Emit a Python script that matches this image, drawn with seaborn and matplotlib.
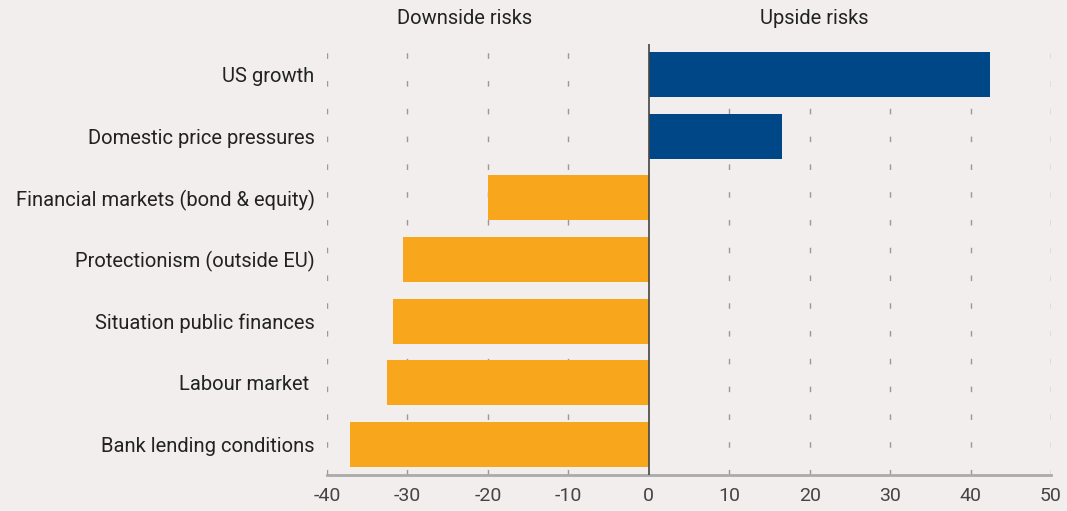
import matplotlib
matplotlib.use("Agg")
import matplotlib.pyplot as plt
import seaborn as sns
import pandas as pd

categories = ["US growth", "Domestic price pressures", "Financial markets (bond & equity)",
              "Protectionism (outside EU)", "Situation public finances", "Labour market ",
              "Bank lending conditions"]
values = [42.4, 16.5, -20.0, -30.6, -31.8, -32.5, -37.1]
risk_type = ["Upside", "Upside", "Downside", "Downside", "Downside", "Downside", "Downside"]
xticks = [-40, -30, -20, -10, 0, 10, 20, 30, 40, 50]

bg = "#f1eeed"
palette = {"Upside": "#004787", "Downside": "#f8a61c"}

sns.set_theme(style="white")
plt.rcParams['font.family'] = ['Roboto', 'DejaVu Sans']

df = pd.DataFrame({"category": categories, "value": values, "type": risk_type})

fig = plt.figure(figsize=(10.67, 5.11), dpi=100, facecolor=bg)
ax = fig.add_axes([0.3065, 0.0705, 0.6785, 0.8435])
ax.set_facecolor(bg)

sns.barplot(data=df, x="value", y="category", hue="type", palette=palette,
            dodge=False, width=0.73, legend=False, ax=ax, saturation=1,
            linewidth=0, edgecolor="none")

ax.set_xlim(-40, 50)
ax.set_xticks(xticks)
ax.set_xticklabels([str(t) for t in xticks], fontsize=14, color="#444444")
ax.set_xlabel("")
ax.set_ylabel("")
ax.tick_params(axis="y", length=0, pad=9, labelsize=14.5, labelcolor="#222222")
ax.tick_params(axis="x", direction="in", length=5, width=1, color="#555555", pad=9)

for t in xticks:
    if t != 0:
        ax.axvline(t, color="#999999", lw=1, ls=(0, (4, 16)), zorder=0)
ax.axvline(0, color="#444444", lw=1.2, zorder=3)

for s in ["top", "right", "left"]:
    ax.spines[s].set_visible(False)
ax.spines["bottom"].set_color("#aaaaaa")
ax.spines["bottom"].set_linewidth(2)

fig.text(465 / 1067, 1 - 18 / 511, "Downside risks", ha="center", va="center",
         fontsize=14.5, color="#222222")
fig.text(814 / 1067, 1 - 18 / 511, "Upside risks", ha="center", va="center",
         fontsize=14.5, color="#222222")

fig.savefig("out.png", dpi=100, facecolor=bg)
